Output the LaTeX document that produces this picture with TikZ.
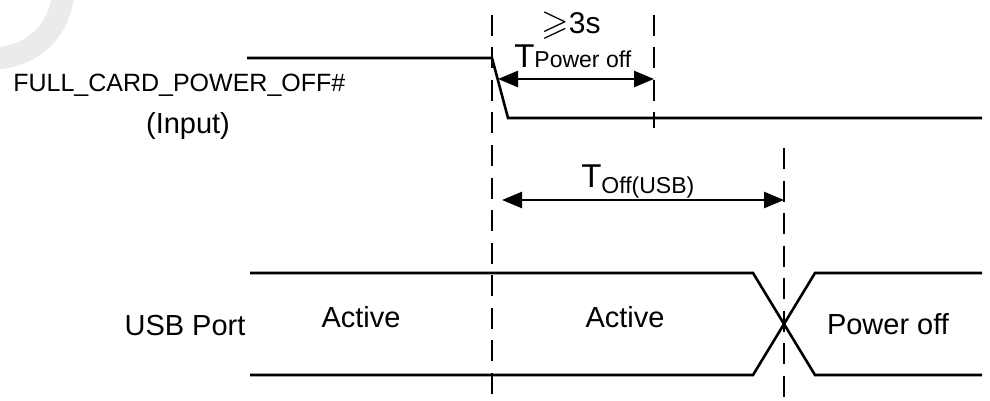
\documentclass[tikz,border=0pt]{standalone}
\usepackage{amssymb}
\usepackage{fontspec}
\setmainfont{Liberation Sans}
\usetikzlibrary{arrows.meta, positioning, calc}
\definecolor{cline}{HTML}{000000}
\definecolor{cmark}{HTML}{EBEBEB}
\tikzset{
  every picture/.style={x=1pt, y=-1pt, line width=2.6pt},
  wave/.style={draw=cline, line width=2.6pt, line join=miter},
  guide/.style={draw=cline, line width=2.8pt, dash pattern=on 21pt off 11.5pt},
  span/.style={{Triangle[length=20pt, width=16pt]}-{Triangle[length=20pt, width=16pt]}, draw=cline, line width=2.6pt},
  txt/.style={inner sep=0pt, anchor=base, font=\fontsize{29}{34}\selectfont},
  sig/.style={inner sep=0pt, anchor=base west, font=\fontsize{25}{30}\selectfont},
  tname/.style={inner sep=0pt, anchor=base west},
}
\newcommand{\tbig}{\fontsize{33}{38}\selectfont}
\newcommand{\tsub}{\fontsize{23}{27}\selectfont}

\begin{document}
\begin{tikzpicture}
  \useasboundingbox (0,0) rectangle (990,401);
  % faint mark in the corner
  \begin{scope}
    \clip (0,0) rectangle (990,401);
    \draw[cmark, line width=22pt] (-5,-10) circle (68);
  \end{scope}
  % guides
  \draw[guide] (492,15) -- (492,401);
  \draw[guide] (654,15) -- (654,128);
  \draw[guide] (784,148) -- (784,401);
  % FULL_CARD_POWER_OFF#
  \draw[wave] (247,58) -- (492,58) -- (508,118) -- (982,118);
  \node[sig] (sname) at (12,92) {FULL\_CARD\_POWER\_OFF\#};
  \node[txt] (sinput) at (188,134) {(Input)};
  % USB port bus
  \draw[wave] (250,273) -- (753,273) -- (815,375) -- (982,375);
  \draw[wave] (250,375) -- (753,375) -- (815,273) -- (982,273);
  \node[txt] (usb) at (185,335) {USB Port};
  \node[txt] (act1) at (361,327) {Active};
  \node[txt] (act2) at (625,327) {Active};
  \node[txt] (poff) at (888,334) {Power off};
  % timings
  \coordinate (pwl) at (498,79);
  \coordinate (pwr) at (654,79);
  \draw[span] (pwl) -- (pwr);
  \node[txt, font=\fontsize{30}{36}\selectfont] (tmin) at (571,34) {\raisebox{-1pt}{\scalebox{1.18}{$\geqslant$}}3s};
  \node[tname] (tpow) at (513,68) {{\tbig T}{\tsub Power off}};
  \coordinate (usbl) at (502,200);
  \coordinate (usbr) at (784,200);
  \draw[span] (usbl) -- (usbr);
  \node[tname] (tusb) at (580,187) {{\tbig T}\raisebox{-6pt}{\tsub Off(USB)}};
\end{tikzpicture}
\end{document}
